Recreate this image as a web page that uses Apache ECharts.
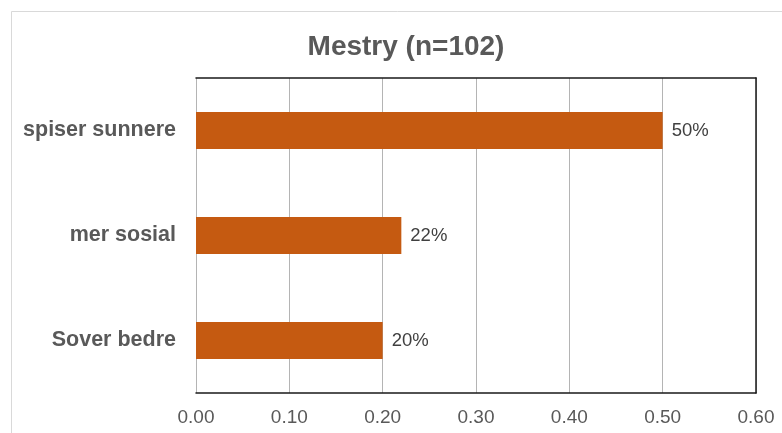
<!DOCTYPE html>
<html>
<head>
<meta charset="utf-8">
<script src="https://cdn.jsdelivr.net/npm/echarts@6/dist/echarts.min.js"></script>
<style>
  html, body { margin: 0; padding: 0; background: #ffffff; }
  #chart { width: 782px; height: 433px; }
</style>
</head>
<body>
<div id="chart"></div>
<script>
// Categories listed bottom-to-top (category axis runs upward)
const categories = ['Sover bedre', 'mer sosial', 'spiser sunnere'];
const shares = [0.20, 0.22, 0.50];
const xTicks = { min: 0, max: 0.6, interval: 0.1 };
const titleText = 'Mestry (n=102)';

const FONT = '"Liberation Sans", Arial, sans-serif';
const chart = echarts.init(document.getElementById('chart'), null, { renderer: 'canvas' });

chart.setOption({
  animation: false,
  backgroundColor: '#ffffff',
  textStyle: { fontFamily: FONT },
  title: {
    text: titleText,
    left: 401,
    top: 28,
    textAlign: 'center',
    textStyle: { fontFamily: FONT, fontSize: 28, fontWeight: 'bold', color: '#595959' }
  },
  graphic: [{
    // outer chart-area frame
    type: 'rect',
    shape: { x: 11.5, y: 11.5, width: 900, height: 600 },
    style: { fill: 'none', stroke: '#d9d9d9', lineWidth: 1 },
    silent: true
  }],
  grid: { left: 196, right: 26, top: 78, bottom: 40 },
  xAxis: [{
    type: 'value',
    position: 'bottom',
    min: xTicks.min, max: xTicks.max, interval: xTicks.interval,
    axisLine: { show: true, onZero: false, lineStyle: { color: '#1a1a1a', width: 1.5 } },
    axisTick: { show: false },
    splitLine: { show: true, lineStyle: { color: '#b4b4b4', width: 1 } },
    axisLabel: {
      color: '#595959', fontSize: 19, fontFamily: FONT, margin: 15,
      formatter: v => v.toFixed(2)
    }
  }, {
    type: 'value',
    position: 'top',
    min: xTicks.min, max: xTicks.max, interval: xTicks.interval,
    axisLine: { show: true, onZero: false, lineStyle: { color: '#1a1a1a', width: 1.5 } },
    axisTick: { show: false },
    axisLabel: { show: false },
    splitLine: { show: false }
  }],
  yAxis: [{
    type: 'category',
    data: categories,
    position: 'left',
    axisLine: { show: false, onZero: false },
    axisTick: { show: false },
    axisLabel: {
      color: '#595959', fontSize: 21.5, fontWeight: 'bold', fontFamily: FONT, margin: 20
    }
  }, {
    type: 'category',
    data: categories,
    position: 'right',
    axisLine: { show: true, onZero: false, lineStyle: { color: '#1a1a1a', width: 1.5 } },
    axisTick: { show: false },
    axisLabel: { show: false }
  }],
  series: [{
    type: 'bar',
    data: shares,
    xAxisIndex: 0,
    yAxisIndex: 0,
    barWidth: 37,
    itemStyle: { color: '#C55A11' },
    label: {
      show: true,
      position: 'right',
      distance: 9,
      color: '#404040',
      fontSize: 18.5,
      fontFamily: FONT,
      formatter: p => Math.round(p.value * 100) + '%'
    }
  }]
});
</script>
</body>
</html>
